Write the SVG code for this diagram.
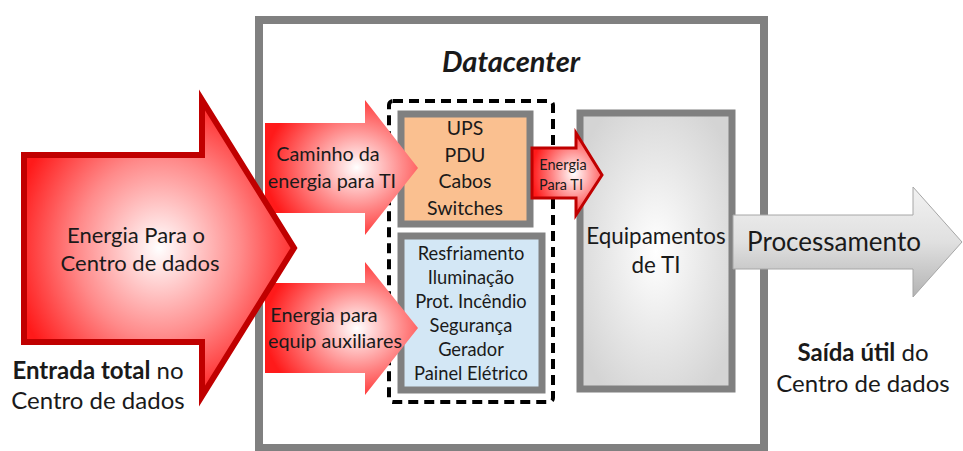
<svg xmlns="http://www.w3.org/2000/svg" width="963" height="451" viewBox="0 0 963 451">
<defs>
<radialGradient id="gBig" cx="0.5" cy="0.5" r="0.55">
<stop offset="0" stop-color="#ffffff"/>
<stop offset="0.55" stop-color="#ff8a8a"/>
<stop offset="1" stop-color="#ff1a1a"/>
</radialGradient>
<radialGradient id="gSmall" cx="0.6" cy="0.5" r="0.6">
<stop offset="0" stop-color="#ffffff"/>
<stop offset="0.5" stop-color="#ff8a8a"/>
<stop offset="1" stop-color="#ff1a1a"/>
</radialGradient>
<radialGradient id="gEq" cx="0.5" cy="0.5" r="0.6">
<stop offset="0" stop-color="#ffffff"/>
<stop offset="1" stop-color="#d4d4d4"/>
</radialGradient>
<linearGradient id="gProc" x1="0" y1="0" x2="0" y2="1">
<stop offset="0" stop-color="#f2f2f2"/>
<stop offset="0.5" stop-color="#e0e0e0"/>
<stop offset="1" stop-color="#b3b3b3"/>
</linearGradient>
<style>
text{font-family:Lato,"Liberation Sans",sans-serif;fill:#1a1a1a;text-anchor:middle}
.box{stroke:#808080;stroke-width:7}
.tu{font-size:19.5px}
.ta{font-size:18.3px}
.ts{font-size:19.8px}
.tl{font-size:24px}
</style>
</defs>

<g id="datacenter">
<rect x="259" y="20" width="505" height="428" fill="#ffffff" stroke="#808080" stroke-width="8"/>
<text x="511" y="72" style="font-size:29px;font-weight:bold;font-style:italic">Datacenter</text>
</g>

<g id="dashed-group">
<rect x="389" y="101" width="164" height="301" rx="4" fill="none" stroke="#000000" stroke-width="4" stroke-dasharray="10 6"/>
</g>

<g id="ups-box">
<rect class="box" x="401" y="114" width="129" height="110" fill="#fac090"/>
<text class="tu" x="465" y="135">UPS</text>
<text class="tu" x="465" y="162">PDU</text>
<text class="tu" x="465" y="188">Cabos</text>
<text class="tu" x="465" y="215">Switches</text>
</g>

<g id="aux-box">
<rect class="box" x="401" y="236" width="141" height="154" fill="#d3e7f5"/>
<text class="ta" x="471" y="260">Resfriamento</text>
<text class="ta" x="471" y="284">Iluminação</text>
<text class="ta" x="471" y="308">Prot. Incêndio</text>
<text class="ta" x="471" y="332">Segurança</text>
<text class="ta" x="471" y="356">Gerador</text>
<text class="ta" x="471" y="380">Painel Elétrico</text>
</g>

<g id="equip-box">
<rect class="box" x="580" y="113" width="152" height="276" fill="url(#gEq)"/>
<text x="656" y="244" style="font-size:22.4px">Equipamentos</text>
<text x="656" y="273" style="font-size:22.4px">de TI</text>
</g>

<g id="connectors">
<g id="arrow-caminho">
<path d="M265,123 H365 V100 L418,168 L365,235 V213 H265 Z" fill="url(#gSmall)"/>
<text class="ts" x="328" y="161">Caminho da</text>
<text class="ts" x="332" y="188">energia para TI</text>
</g>
<g id="arrow-aux">
<path d="M265,283 H365 V262 L418,328 L365,395 V373 H265 Z" fill="url(#gSmall)"/>
<text class="ts" x="324" y="322">Energia para</text>
<text class="ts" x="335" y="348">equip auxiliares</text>
</g>
<g id="arrow-big">
<path d="M24,155 H202 V100 L294,248 L202,396 V342 H24 Z" fill="url(#gBig)" stroke="#c00000" stroke-width="6" stroke-linejoin="miter"/>
<text x="136" y="243" style="font-size:22px">Energia Para o</text>
<text x="140" y="271" style="font-size:22px">Centro de dados</text>
</g>
<g id="arrow-ti">
<path d="M532,148 H576 V133 L602,175 L576,215 V198 H532 Z" fill="url(#gSmall)" stroke="#c00000" stroke-width="3"/>
<text x="563" y="170" style="font-size:14.5px">Energia</text>
<text x="561" y="190" style="font-size:14.5px">Para TI</text>
</g>
<g id="arrow-proc">
<path d="M733,215 H913 V187 L962,242 L913,297 V269 H733 Z" fill="url(#gProc)" stroke="#a6a6a6" stroke-width="1"/>
<text x="834" y="251" style="font-size:26px">Processamento</text>
</g>
</g>

<g id="label-entrada">
<text class="tl" x="98" y="379"><tspan font-weight="bold">Entrada total</tspan> no</text>
<text class="tl" x="98" y="409">Centro de dados</text>
</g>

<g id="label-saida">
<text class="tl" x="863" y="361"><tspan font-weight="bold">Saída útil</tspan> do</text>
<text class="tl" x="863" y="392">Centro de dados</text>
</g>
</svg>
